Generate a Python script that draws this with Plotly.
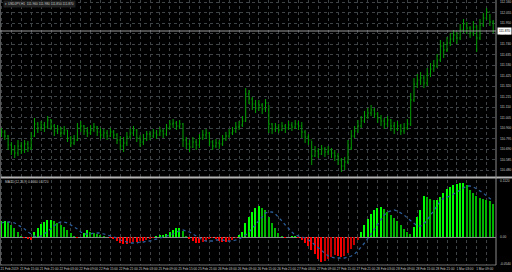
import plotly.graph_objects as go

# ---------------- data ----------------
bar_index = list(range(150))

open_ = [110.84, 110.86, 110.82, 110.73, 110.68, 110.65, 110.72, 110.68, 110.74, 110.70,
         110.82, 110.94, 110.90, 110.93, 110.91, 110.98, 110.92, 110.87, 110.89, 110.85,
         110.88, 110.80, 110.75, 110.78, 110.90, 110.92, 110.87, 110.85, 110.88, 110.91,
         110.86, 110.83, 110.85, 110.82, 110.86, 110.83, 110.78, 110.72, 110.75, 110.81,
         110.85, 110.88, 110.80, 110.76, 110.79, 110.84, 110.82, 110.85, 110.83, 110.87,
         110.84, 110.90, 110.94, 110.95, 110.92, 110.94, 110.78, 110.74, 110.71, 110.76,
         110.73, 110.80, 110.83, 110.85, 110.76, 110.72, 110.75, 110.74, 110.79, 110.82,
         110.85, 110.87, 110.91, 110.93, 110.97, 111.24, 111.19, 111.14, 111.10, 111.13,
         111.09, 111.15, 110.94, 110.89, 110.91, 110.88, 110.92, 110.90, 110.93, 110.91,
         110.94, 110.92, 110.86, 110.81, 110.78, 110.62, 110.67, 110.64, 110.69, 110.66,
         110.68, 110.65, 110.62, 110.58, 110.52, 110.56, 110.70, 110.82, 110.87, 110.92,
         110.97, 111.02, 111.05, 111.08, 111.04, 111.00, 110.97, 110.94, 110.98, 110.92,
         110.89, 110.92, 110.87, 110.90, 110.94, 111.18, 111.34, 111.38, 111.40, 111.35,
         111.44, 111.49, 111.52, 111.58, 111.72, 111.68, 111.75, 111.79, 111.83, 111.80,
         111.88, 111.94, 111.90, 111.85, 111.91, 111.80, 111.93, 112.00, 112.06, 111.96]

high = [110.90, 110.88, 110.83, 110.76, 110.73, 110.78, 110.76, 110.78, 110.77, 110.86,
        111.00, 110.96, 110.97, 110.96, 111.02, 110.99, 110.94, 110.93, 110.91, 110.92,
        110.88, 110.82, 110.83, 110.95, 110.97, 110.93, 110.91, 110.93, 110.95, 110.92,
        110.90, 110.89, 110.88, 110.90, 110.88, 110.85, 110.82, 110.81, 110.86, 110.90,
        110.92, 110.89, 110.83, 110.84, 110.87, 110.87, 110.89, 110.88, 110.91, 110.89,
        110.94, 110.98, 110.99, 110.97, 110.98, 110.95, 110.81, 110.78, 110.81, 110.79,
        110.84, 110.88, 110.89, 110.86, 110.78, 110.79, 110.78, 110.83, 110.86, 110.89,
        110.91, 110.96, 110.97, 111.02, 111.30, 111.28, 111.21, 111.18, 111.18, 111.15,
        111.19, 111.13, 110.95, 110.95, 110.94, 110.96, 110.94, 110.97, 110.96, 110.98,
        110.97, 110.96, 110.88, 110.84, 110.77, 110.72, 110.70, 110.73, 110.71, 110.72,
        110.70, 110.68, 110.65, 110.60, 110.61, 110.78, 110.88, 110.92, 110.98, 111.02,
        111.07, 111.10, 111.13, 111.10, 111.06, 111.03, 111.00, 111.02, 110.99, 110.96,
        110.97, 110.94, 110.95, 110.99, 111.25, 111.40, 111.44, 111.46, 111.43, 111.50,
        111.55, 111.58, 111.64, 111.78, 111.76, 111.81, 111.85, 111.88, 111.86, 111.94,
        111.99, 111.96, 111.92, 111.97, 111.93, 111.99, 112.05, 112.10, 112.04, 111.98]

low = [110.81, 110.78, 110.68, 110.63, 110.60, 110.62, 110.64, 110.65, 110.66, 110.68,
       110.81, 110.85, 110.87, 110.86, 110.89, 110.88, 110.82, 110.84, 110.81, 110.83,
       110.76, 110.71, 110.73, 110.77, 110.86, 110.83, 110.81, 110.83, 110.86, 110.82,
       110.79, 110.80, 110.78, 110.81, 110.79, 110.74, 110.68, 110.66, 110.72, 110.79,
       110.82, 110.76, 110.71, 110.73, 110.77, 110.78, 110.80, 110.79, 110.82, 110.80,
       110.82, 110.88, 110.90, 110.88, 110.89, 110.71, 110.69, 110.66, 110.70, 110.68,
       110.70, 110.78, 110.79, 110.72, 110.68, 110.70, 110.69, 110.72, 110.77, 110.80,
       110.83, 110.85, 110.88, 110.91, 110.96, 111.14, 111.08, 111.05, 111.07, 111.04,
       111.06, 110.85, 110.84, 110.86, 110.85, 110.87, 110.85, 110.88, 110.87, 110.89,
       110.88, 110.80, 110.75, 110.73, 110.53, 110.61, 110.60, 110.63, 110.61, 110.63,
       110.60, 110.57, 110.53, 110.46, 110.48, 110.54, 110.68, 110.80, 110.85, 110.90,
       110.95, 110.99, 111.02, 111.00, 110.95, 110.92, 110.89, 110.91, 110.87, 110.84,
       110.87, 110.83, 110.84, 110.88, 110.92, 111.16, 111.30, 111.33, 111.30, 111.32,
       111.41, 111.46, 111.50, 111.56, 111.60, 111.66, 111.72, 111.76, 111.74, 111.78,
       111.85, 111.84, 111.80, 111.82, 111.66, 111.78, 111.91, 111.98, 111.92, 111.85]

close = [110.86, 110.82, 110.73, 110.68, 110.65, 110.72, 110.68, 110.74, 110.70, 110.82,
         110.94, 110.90, 110.93, 110.91, 110.98, 110.92, 110.87, 110.89, 110.85, 110.88,
         110.80, 110.75, 110.78, 110.90, 110.92, 110.87, 110.85, 110.88, 110.91, 110.86,
         110.83, 110.85, 110.82, 110.86, 110.83, 110.78, 110.72, 110.75, 110.81, 110.85,
         110.88, 110.80, 110.76, 110.79, 110.84, 110.82, 110.85, 110.83, 110.87, 110.84,
         110.90, 110.94, 110.95, 110.92, 110.94, 110.78, 110.74, 110.71, 110.76, 110.73,
         110.80, 110.83, 110.85, 110.76, 110.72, 110.75, 110.74, 110.79, 110.82, 110.85,
         110.87, 110.91, 110.93, 110.97, 111.24, 111.19, 111.14, 111.10, 111.13, 111.09,
         111.15, 110.94, 110.89, 110.91, 110.88, 110.92, 110.90, 110.93, 110.91, 110.94,
         110.92, 110.86, 110.81, 110.78, 110.62, 110.67, 110.64, 110.69, 110.66, 110.68,
         110.65, 110.62, 110.58, 110.52, 110.56, 110.70, 110.82, 110.87, 110.92, 110.97,
         111.02, 111.05, 111.08, 111.04, 111.00, 110.97, 110.94, 110.98, 110.92, 110.89,
         110.92, 110.87, 110.90, 110.94, 111.18, 111.34, 111.38, 111.40, 111.35, 111.44,
         111.49, 111.52, 111.58, 111.72, 111.68, 111.75, 111.79, 111.83, 111.80, 111.88,
         111.94, 111.90, 111.85, 111.91, 111.80, 111.93, 112.00, 112.06, 111.96, 111.87]

hist = [0.032, 0.032, 0.030, 0.024, 0.018, 0.010, 0.002, -0.002, -0.004, -0.006,
        0.010, 0.018, 0.026, 0.030, 0.034, 0.034, 0.032, 0.028, 0.024, 0.020,
        0.014, 0.008, 0.002, -0.002, 0.000, 0.008, 0.014, 0.010, 0.008, 0.006,
        0.004, 0.002, 0.000, -0.002, -0.004, -0.008, -0.012, -0.014, -0.014, -0.012,
        -0.010, -0.010, -0.008, -0.008, -0.006, -0.004, -0.002, 0.002, 0.004, 0.004,
        0.006, 0.010, 0.014, 0.018, 0.018, 0.012, 0.002, -0.004, -0.008, -0.012,
        -0.012, -0.010, -0.008, -0.004, -0.002, -0.004, -0.008, -0.010, -0.010, -0.008,
        -0.006, -0.002, 0.004, 0.010, 0.028, 0.040, 0.050, 0.058, 0.062, 0.058,
        0.054, 0.040, 0.028, 0.018, 0.008, 0.002, -0.002, 0.000, 0.002, 0.002,
        -0.002, -0.006, -0.012, -0.018, -0.026, -0.034, -0.044, -0.050, -0.048, -0.044,
        -0.040, -0.036, -0.038, -0.040, -0.038, -0.032, -0.024, -0.016, -0.006, 0.010,
        0.024, 0.036, 0.046, 0.054, 0.058, 0.060, 0.056, 0.050, 0.044, 0.038,
        0.032, 0.024, 0.016, 0.010, 0.006, 0.020, 0.040, 0.054, 0.082, 0.080,
        0.076, 0.074, 0.074, 0.080, 0.088, 0.096, 0.100, 0.104, 0.106, 0.108,
        0.108, 0.104, 0.094, 0.088, 0.082, 0.078, 0.076, 0.074, 0.072, 0.066]

signal = [0.028, 0.030, 0.030, 0.030, 0.028, 0.024, 0.020, 0.016, 0.010, 0.006,
          0.002, 0.000, 0.002, 0.006, 0.012, 0.018, 0.024, 0.028, 0.030, 0.030,
          0.028, 0.024, 0.020, 0.016, 0.010, 0.006, 0.006, 0.006, 0.008, 0.008,
          0.008, 0.006, 0.004, 0.002, 0.000, -0.002, -0.006, -0.008, -0.010, -0.012,
          -0.012, -0.012, -0.010, -0.010, -0.008, -0.008, -0.006, -0.004, -0.002, 0.000,
          0.002, 0.004, 0.006, 0.010, 0.012, 0.014, 0.012, 0.010, 0.006, 0.002,
          -0.002, -0.006, -0.008, -0.008, -0.008, -0.006, -0.006, -0.006, -0.008, -0.008,
          -0.008, -0.006, -0.004, 0.000, 0.004, 0.010, 0.018, 0.026, 0.034, 0.042,
          0.048, 0.050, 0.050, 0.046, 0.040, 0.032, 0.024, 0.016, 0.010, 0.004,
          0.002, 0.000, -0.002, -0.006, -0.010, -0.016, -0.022, -0.028, -0.034, -0.038,
          -0.040, -0.042, -0.042, -0.042, -0.042, -0.040, -0.038, -0.034, -0.028, -0.020,
          -0.012, -0.004, 0.006, 0.016, 0.026, 0.036, 0.044, 0.050, 0.052, 0.054,
          0.052, 0.048, 0.044, 0.038, 0.032, 0.026, 0.022, 0.022, 0.026, 0.034,
          0.044, 0.054, 0.064, 0.072, 0.078, 0.080, 0.082, 0.086, 0.090, 0.094,
          0.098, 0.102, 0.102, 0.100, 0.096, 0.092, 0.088, 0.082, 0.076, 0.072]

date_labels = ["21 Feb 2019", "21 Feb 15:00", "21 Feb 21:00", "22 Feb 03:00", "22 Feb 09:00",
               "22 Feb 15:00", "22 Feb 21:00", "25 Feb 03:00", "25 Feb 09:00", "25 Feb 15:00",
               "25 Feb 21:00", "26 Feb 03:00", "26 Feb 09:00", "26 Feb 15:00", "26 Feb 21:00",
               "27 Feb 03:00", "27 Feb 09:00", "27 Feb 15:00", "27 Feb 21:00", "28 Feb 03:00",
               "28 Feb 09:00", "28 Feb 15:00", "28 Feb 21:00", "1 Mar 03:00", "1 Mar 09:00"]

price_ticks = [112.160, 112.055, 111.950, 111.845, 111.740, 111.635, 111.530, 111.425, 111.320,
               111.215, 111.110, 111.005, 110.900, 110.795, 110.690, 110.585, 110.480]

osc_ticks = [0.112, 0.0, -0.054]
osc_tick_text = ["0.1120", "0.00", "-0.0540"]

symbol_title = "USDJPY,H1  111.960 111.980 111.850 111.870"
osc_title = "MACD(12,26,9) 0.0660 0.0720"

# ---------------- styling ----------------
W, H = 512, 272
BAR_GREEN = "#00a000"
GRID = "#3c4448"
TXT = "#c8c8c8"
FONT = "Liberation Sans"
FS = 3.2

# colour for each oscillator bar (lime rising / green falling / red falling / dark red rising)
hist_colors = []
for i, v in enumerate(hist):
    prev = hist[i - 1] if i > 0 else v
    if v >= 0:
        hist_colors.append("#00ff00" if v >= prev else "#00b400")
    else:
        hist_colors.append("#ff0000" if v <= prev else "#c80000")

x_dom = [0, 496 / W]
x_rng = [-0.4545, 149.85]
main_dom = [(H - 177) / H, 1]
sub_dom = [(H - 265) / H, (H - 180) / H]

fig = go.Figure()
fig.add_trace(go.Ohlc(
    x=bar_index, open=open_, high=high, low=low, close=close,
    increasing_line_color=BAR_GREEN, decreasing_line_color=BAR_GREEN,
    line_width=1, tickwidth=0.3, xaxis="x", yaxis="y", hoverinfo="skip"))
fig.add_trace(go.Bar(
    x=bar_index, y=hist, marker_color=hist_colors, marker_line_width=0,
    width=0.45, xaxis="x2", yaxis="y2", hoverinfo="skip"))
fig.add_trace(go.Scatter(
    x=bar_index, y=signal, mode="lines",
    line=dict(color="#2c5c98", width=1.3, dash="dot"),
    xaxis="x2", yaxis="y2", hoverinfo="skip"))

grid_vals = bar_index[::3]
xtick_text = []
for k, v in enumerate(grid_vals):
    xtick_text.append(date_labels[k // 2] if k % 2 == 0 else "")

fig.update_layout(
    width=W, height=H, margin=dict(l=0, r=0, t=0, b=0),
    paper_bgcolor="black", plot_bgcolor="black", showlegend=False,
    font=dict(family=FONT, color=TXT, size=FS),
    bargap=0,
    xaxis=dict(domain=x_dom, range=x_rng, anchor="y", rangeslider=dict(visible=False),
               tickvals=grid_vals, showticklabels=False, ticks="",
               showgrid=True, gridcolor=GRID, griddash="dot", gridwidth=1,
               zeroline=False, showline=False),
    yaxis=dict(domain=main_dom, range=[110.41, 112.18], side="right", anchor="x",
               tickvals=price_ticks, ticktext=[f"{p:.3f}" for p in price_ticks],
               tickfont=dict(size=FS, color=TXT, family=FONT), ticks="",
               showgrid=True, gridcolor=GRID, griddash="dot", gridwidth=1,
               zeroline=False, automargin=False, ticklabelstandoff=3),
    xaxis2=dict(domain=x_dom, range=x_rng, anchor="y2",
                tickvals=grid_vals, ticktext=xtick_text, ticks="",
                tickfont=dict(size=FS, color=TXT, family=FONT), tickangle=0,
                ticklabelshift=8, ticklabelstandoff=1,
                showgrid=True, gridcolor=GRID, griddash="dot", gridwidth=1,
                zeroline=False, automargin=False),
    yaxis2=dict(domain=sub_dom, range=[-0.056, 0.114], side="right", anchor="x2",
                tickvals=osc_ticks, ticktext=osc_tick_text, ticks="",
                tickfont=dict(size=FS, color=TXT, family=FONT),
                showgrid=False, zeroline=True, zerolinecolor="#8a8a8a", zerolinewidth=1,
                automargin=False, ticklabelstandoff=3),
)

shapes = [
    # window separator
    dict(type="line", xref="paper", yref="paper", x0=0, x1=1, y0=(H - 177.5) / H, y1=(H - 177.5) / H,
         line=dict(color="#b4b4b4", width=2)),
    # bottom border of indicator window
    dict(type="line", xref="paper", yref="paper", x0=0, x1=x_dom[1], y0=sub_dom[0], y1=sub_dom[0],
         line=dict(color="#707070", width=1)),
    # right border of chart
    dict(type="line", xref="paper", yref="paper", x0=x_dom[1], x1=x_dom[1], y0=sub_dom[0], y1=1,
         line=dict(color="#8a8a8a", width=1)),
    # left border
    dict(type="line", xref="paper", yref="paper", x0=0.001, x1=0.001, y0=sub_dom[0], y1=1,
         line=dict(color="#5a5a5a", width=1)),
    # bid line
    dict(type="line", xref="paper", yref="y", x0=0, x1=x_dom[1], y0=close[-1], y1=close[-1],
         line=dict(color="#9a9a9a", width=1)),
]
fig.update_layout(shapes=shapes)

fig.add_annotation(xref="paper", yref="y", x=x_dom[1] + 1 / W, y=close[-1], xanchor="left",
                   yanchor="middle", text=f"{close[-1]:.3f}", showarrow=False,
                   font=dict(size=FS, color="black", family=FONT), bgcolor="white",
                   borderpad=1)
fig.add_annotation(xref="paper", yref="paper", x=3 / W, y=1 - 4 / H, xanchor="left",
                   yanchor="middle", text="▾ " + symbol_title, showarrow=False,
                   font=dict(size=FS, color=TXT, family=FONT), bgcolor="#202020")
fig.add_annotation(xref="paper", yref="paper", x=3 / W, y=(H - 182) / H, xanchor="left",
                   yanchor="middle", text=osc_title, showarrow=False,
                   font=dict(size=FS, color=TXT, family=FONT))

fig.write_html("out.html")
